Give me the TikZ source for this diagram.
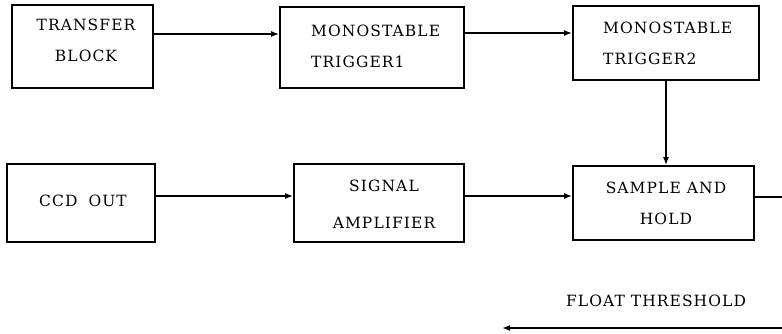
\documentclass[tikz,border=0pt]{standalone}
\usepackage{fontspec}
\setmainfont{DejaVu Serif}[LetterSpace=7]
\usetikzlibrary{arrows.meta}
\begin{document}
\begin{tikzpicture}[x=1pt,y=-1pt,
  blk/.style={draw,line width=1.6pt,rectangle,inner sep=0pt},
  lbl/.style={font=\fontsize{15.5}{31}\selectfont,inner sep=0pt},
  wire/.style={line width=1.6pt},
  arr/.style={wire,-{Latex[length=8pt,width=6pt]}}]
\useasboundingbox (0,0) rectangle (782,334);

% upper row
\node[blk,minimum width=141pt,minimum height=83pt] (tb) at (82.5,46.5) {};
\node[blk,minimum width=184pt,minimum height=81pt] (m1) at (372,47.5) {};
\node[blk,minimum width=186pt,minimum height=74pt] (m2) at (666,43) {};
% lower row
\node[blk,minimum width=148pt,minimum height=78pt] (ccd) at (81,203) {};
\node[blk,minimum width=170pt,minimum height=78pt] (sa) at (379,203) {};
\node[blk,minimum width=181pt,minimum height=74pt] (sh) at (663.5,203) {};

% labels
\node[lbl,align=center] (tbt) at (86,40) {TRANSFER\\BLOCK};
\node[lbl,align=left,anchor=west] (m1t) at (311,46) {MONOSTABLE\\TRIGGER1};
\node[lbl,align=left,anchor=west] (m2t) at (603,43.5) {MONOSTABLE\\TRIGGER2};
\node[lbl] (ccdt) at (83,201) {CCD\hspace{11pt}OUT};
\node[lbl,align=center] (sat) at (384,204.5) {SIGNAL\\[6pt]AMPLIFIER};
\node[lbl,align=center] (sht) at (666,203) {SAMPLE AND\\HOLD};
\node[lbl] (ft) at (656,301) {FLOAT THRESHOLD};

% connectors
\coordinate (outR) at (782,197);
\coordinate (fbR) at (782,328);
\coordinate (fbL) at (502,328);
\draw[arr] (tb.east |- 0,34) -- (m1.west |- 0,34);
\draw[arr] (m1.east |- 0,33) -- (m2.west |- 0,33);
\draw[arr] (m2.south) -- (m2.south |- sh.north);
\draw[arr] (ccd.east |- 0,196) -- (sa.west |- 0,196);
\draw[arr] (sa.east |- 0,196) -- (sh.west |- 0,196);
\draw[wire] (sh.east |- outR) -- (outR);
\draw[arr] (fbR) -- (fbL);
\end{tikzpicture}
\end{document}
